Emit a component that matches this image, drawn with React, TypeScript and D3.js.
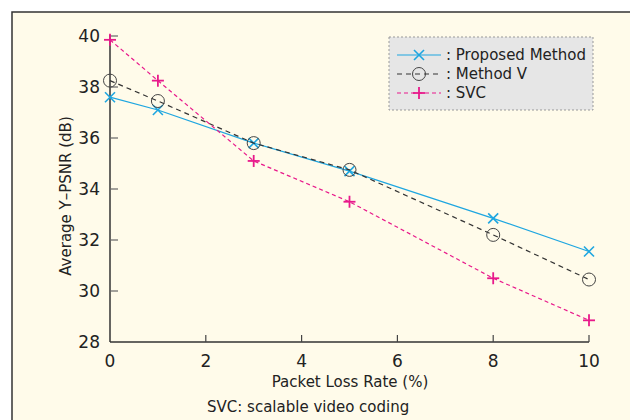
import React from "react";
import * as d3 from "d3";

const lossRates = [0, 1, 3, 5, 8, 10];
const proposed = [37.6, 37.1, 35.8, 34.7, 32.85, 31.55];
const methodV = [38.25, 37.45, 35.8, 34.75, 32.2, 30.45];
const svc = [39.85, 38.25, 35.1, 33.5, 30.5, 28.85];
const xTicks = [0, 2, 4, 6, 8, 10];
const yTicks = [28, 30, 32, 34, 36, 38, 40];
const seriesNames = [": Proposed Method", ": Method V", ": SVC"];

const FONT = "'DejaVu Sans', 'Liberation Sans', sans-serif";

export default function App() {
  const W = 630, H = 420;
  const x = d3.scaleLinear().domain([0, 10]).range([110, 589]);
  const y = d3.scaleLinear().domain([28, 40]).range([342, 36]);
  const line = d3.line<number>().x((_, i) => x(lossRates[i])).y(d => y(d));

  const series = [
    { vals: proposed, color: "#1ea6e0", dash: "", marker: "x" },
    { vals: methodV, color: "#333", dash: "5,4", marker: "o" },
    { vals: svc, color: "#e8198b", dash: "4,3", marker: "+" },
  ];

  const marker = (m: string, cx: number, cy: number, color: string, key: any) => {
    if (m === "x") {
      const s = 5;
      return (
        <g key={key} stroke={color} strokeWidth={1.6}>
          <line x1={cx - s} y1={cy - s} x2={cx + s} y2={cy + s} />
          <line x1={cx - s} y1={cy + s} x2={cx + s} y2={cy - s} />
        </g>
      );
    }
    if (m === "o") {
      return <circle key={key} cx={cx} cy={cy} r={6.5} fill="none" stroke="#444" strokeWidth={1} />;
    }
    const s = 6;
    return (
      <g key={key} stroke={color} strokeWidth={1.8}>
        <line x1={cx - s} y1={cy} x2={cx + s} y2={cy} />
        <line x1={cx} y1={cy - s} x2={cx} y2={cy + s} />
      </g>
    );
  };

  return (
    <svg width={W} height={H} style={{ position: "absolute", left: 0, top: 0 }} fontFamily={FONT}>
      <rect x={0} y={0} width={W} height={H} fill="#fff" />
      <rect x={12} y={12} width={W + 10} height={H + 10} fill="#fffbea" stroke="#333" strokeWidth={1.5} />

      {/* axes */}
      <line x1={x(0)} y1={y(40) - 1} x2={x(0)} y2={y(28)} stroke="#333" strokeWidth={1.5} />
      <line x1={x(0)} y1={y(28)} x2={x(10)} y2={y(28)} stroke="#333" strokeWidth={1.5} />
      {yTicks.map(t => (
        <g key={"y" + t}>
          {t !== 28 && <line x1={x(0)} x2={x(0) + 8} y1={y(t)} y2={y(t)} stroke="#666" strokeWidth={1.2} />}
          <text x={100} y={y(t)} dy="0.36em" textAnchor="end" fontSize={17} fill="#222">{t}</text>
        </g>
      ))}
      {xTicks.map(t => (
        <g key={"x" + t}>
          {t !== 0 && <line x1={x(t)} x2={x(t)} y1={y(28)} y2={y(28) - 7} stroke="#444" strokeWidth={1.2} />}
          <text x={x(t)} y={367} textAnchor="middle" fontSize={17} fill="#222">{t}</text>
        </g>
      ))}
      <text x={350} y={387} textAnchor="middle" fontSize={15} fill="#222">Packet Loss Rate (%)</text>
      <text transform={`translate(71,196) rotate(-90)`} textAnchor="middle" fontSize={15} fill="#222">Average Y–PSNR (dB)</text>
      <text x={207} y={412} fontSize={15} fill="#222">SVC: scalable video coding</text>

      {/* series */}
      {series.map((s, si) => (
        <g key={"s" + si}>
          <path d={line(s.vals) || ""} fill="none" stroke={s.color} strokeWidth={1.2} strokeDasharray={s.dash} />
          {s.vals.map((v, i) => marker(s.marker, x(lossRates[i]), y(v), s.color, i))}
        </g>
      ))}

      {/* legend */}
      <g>
        <rect x={389} y={37} width={204} height={73} fill="#e6e6e6" stroke="#999" strokeDasharray="2,2" strokeWidth={1} />
        {series.map((s, i) => {
          const ly = 55 + i * 19;
          return (
            <g key={"l" + i}>
              <line x1={397} x2={441} y1={ly} y2={ly} stroke={s.color} strokeWidth={1.2} strokeDasharray={s.dash} />
              {marker(s.marker, 419, ly, s.color, "m" + i)}
              <text x={446} y={ly} dy="0.36em" fontSize={15} fill="#222">{seriesNames[i]}</text>
            </g>
          );
        })}
      </g>
    </svg>
  );
}
